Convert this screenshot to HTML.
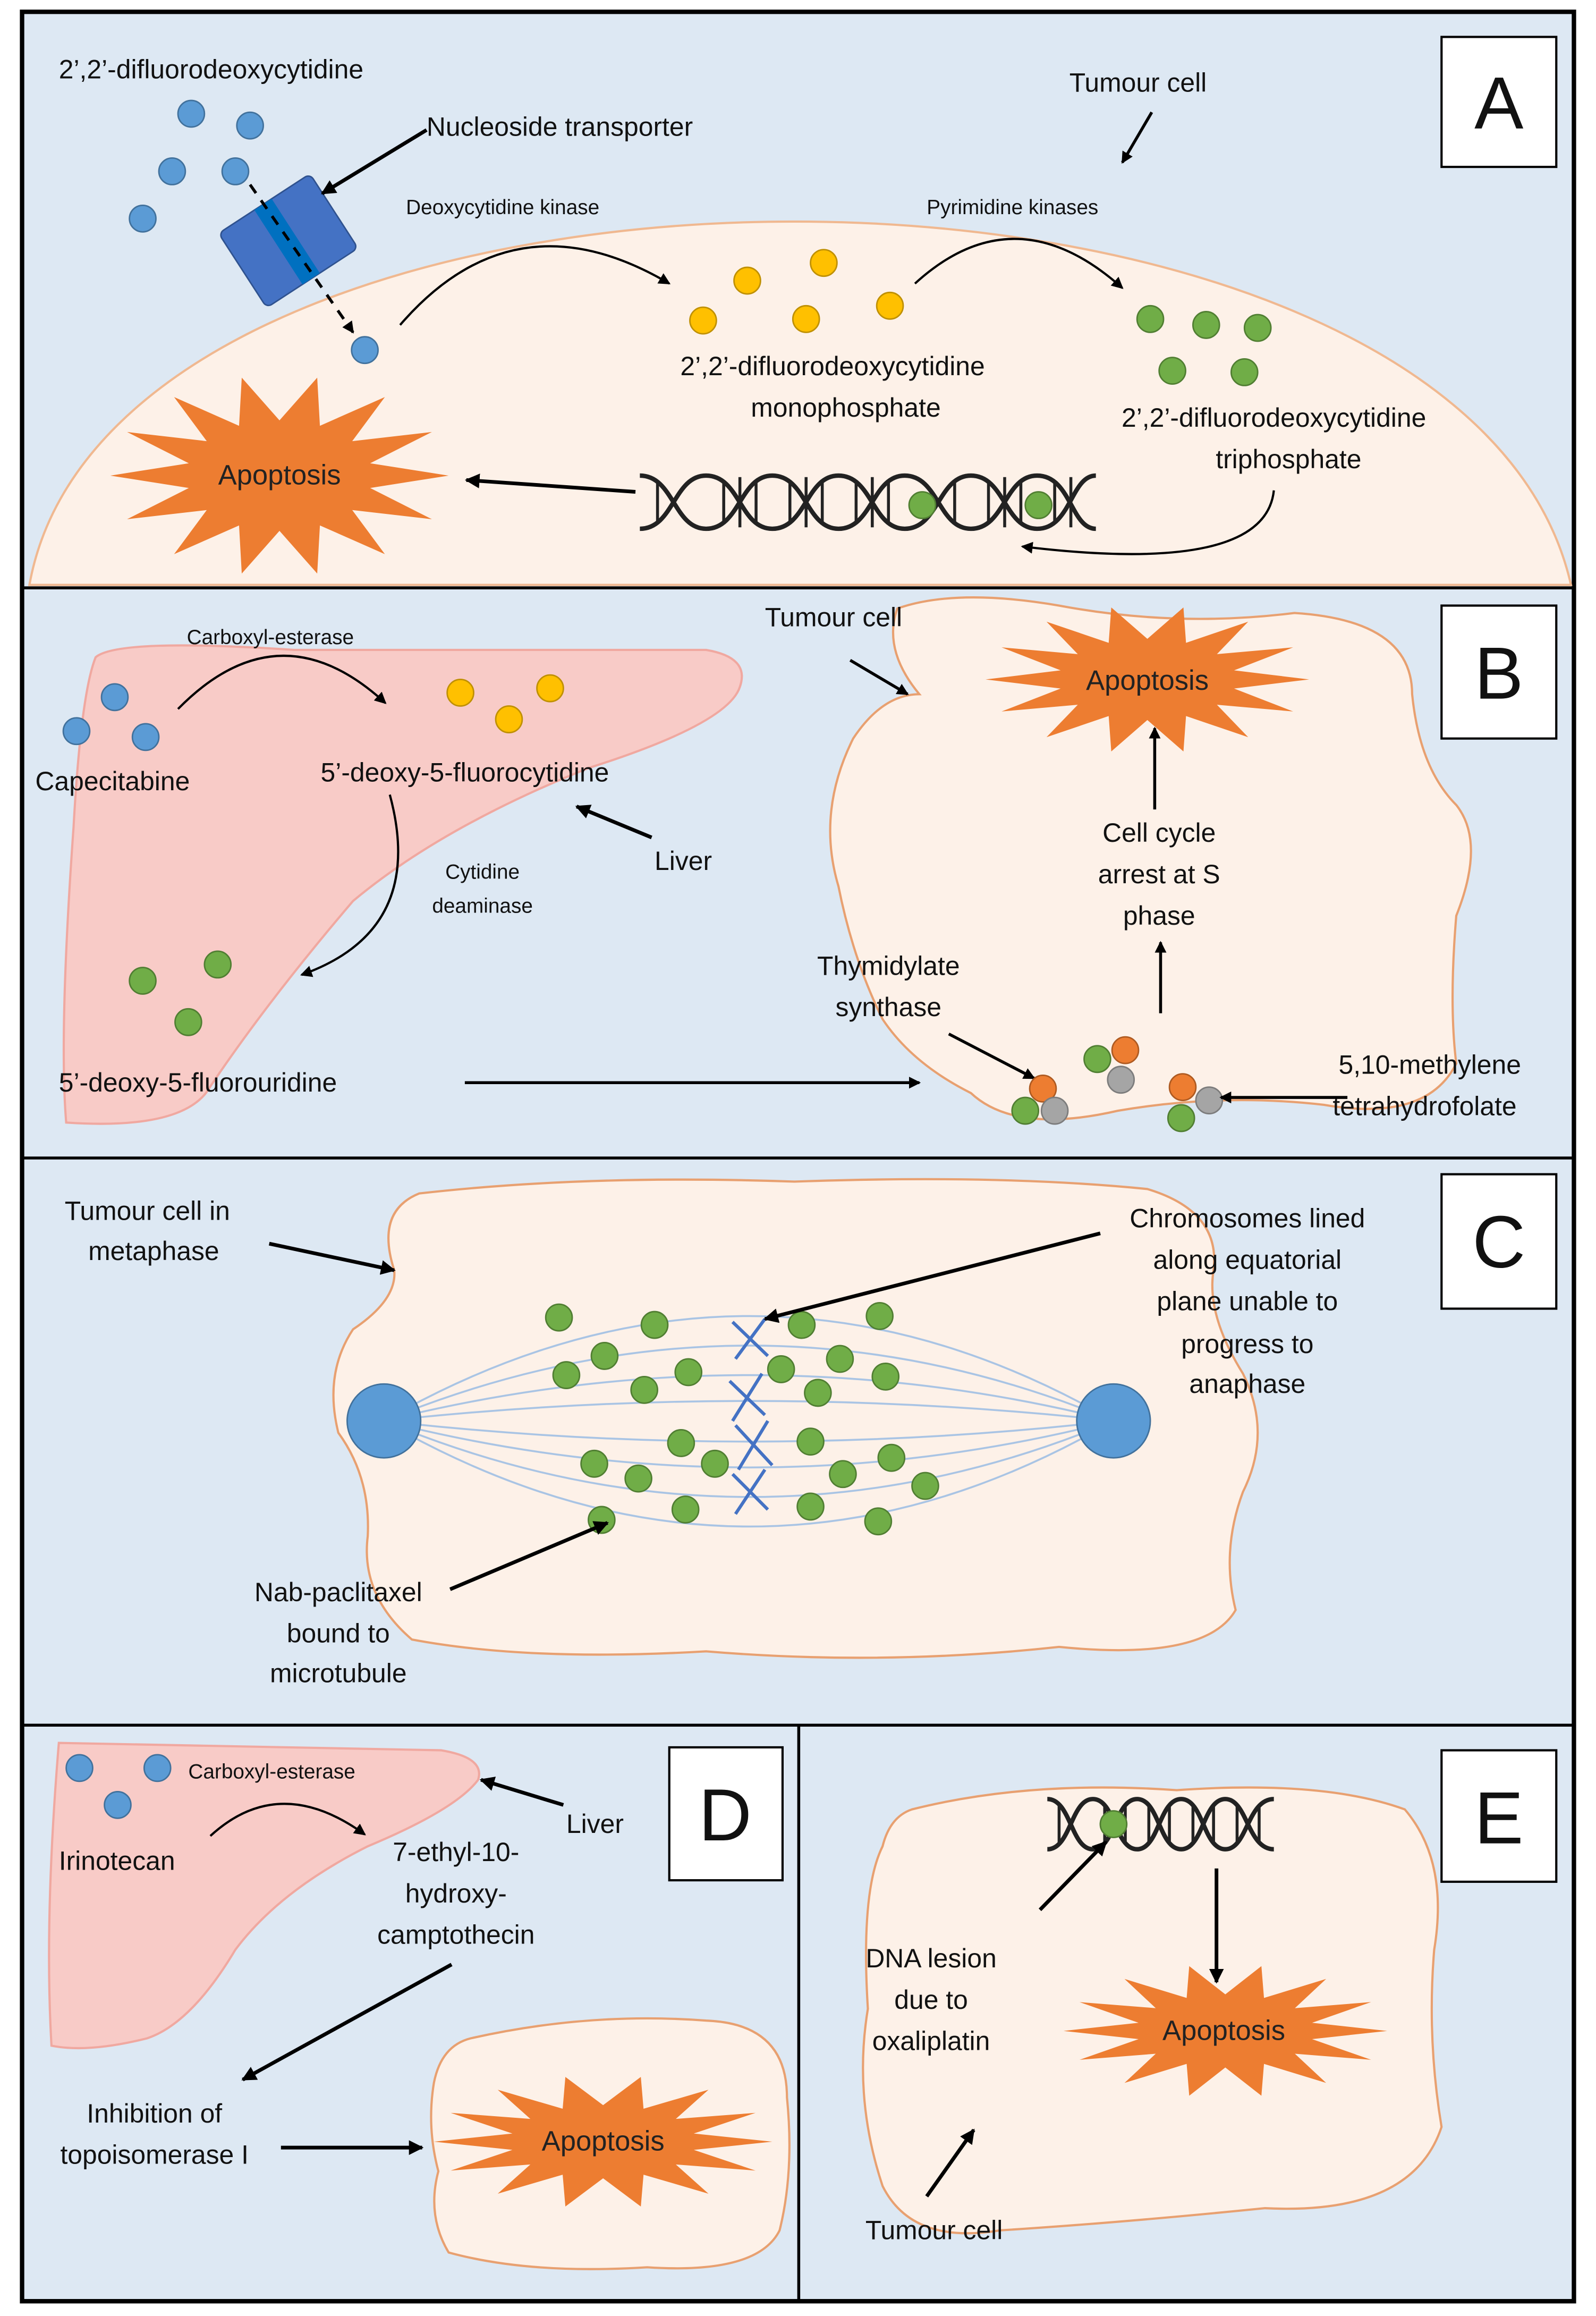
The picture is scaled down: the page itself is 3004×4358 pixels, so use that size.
<!DOCTYPE html>
<html><head><meta charset="utf-8"><style>
html,body{margin:0;padding:0;background:#fff}
svg{display:block}
text{font-family:"Liberation Sans",sans-serif;fill:#111}
.l{font-size:18px}.s{font-size:14px}.c{text-anchor:middle}
.big{font-size:50px;text-anchor:middle}
.ap{font-size:19px;text-anchor:middle;fill:#222}
</style></head><body>
<svg width="3004" height="4358" viewBox="0 0 1085 1568" preserveAspectRatio="none" xmlns="http://www.w3.org/2000/svg">
<defs>
<marker id="ar" markerWidth="8" markerHeight="8" refX="7" refY="4" orient="auto" markerUnits="userSpaceOnUse" viewBox="0 0 8 8"><path d="M0,0 L8,4 L0,8 z" fill="#000"/></marker>
<marker id="ar2" markerWidth="10" markerHeight="10" refX="9" refY="5" orient="auto" markerUnits="userSpaceOnUse" viewBox="0 0 10 10"><path d="M0,0 L10,5 L0,10 z" fill="#000"/></marker>
<polygon id="star" points="1,0 0.536,0.123 0.901,0.434 0.430,0.343 0.623,0.782 0.239,0.496 0.223,0.975 0,0.55 -0.223,0.975 -0.239,0.496 -0.623,0.782 -0.430,0.343 -0.901,0.434 -0.536,0.123 -1,0 -0.536,-0.123 -0.901,-0.434 -0.430,-0.343 -0.623,-0.782 -0.239,-0.496 -0.223,-0.975 0,-0.55 0.223,-0.975 0.239,-0.496 0.623,-0.782 0.430,-0.343 0.901,-0.434 0.536,-0.123"/>
</defs>
<rect x="15" y="8" width="1055" height="1550" fill="#dde8f3" stroke="#000" stroke-width="3"/>
<g stroke="#000" stroke-width="2">
<line x1="15" y1="398" x2="1070" y2="398"/><line x1="15" y1="784" x2="1070" y2="784"/><line x1="15" y1="1168" x2="1070" y2="1168"/><line x1="543" y1="1168" x2="543" y2="1558"/>
</g>
<!-- Panel A -->
<path d="M20,396 C50,230 300,150 540,150 C780,150 1030,230 1068,396 Z" fill="#fdf1e8" stroke="#f0b890" stroke-width="1.5"/>
<rect x="980" y="25" width="78" height="88" fill="#fff" stroke="#000" stroke-width="1.5"/><text x="1019" y="87" class="big">A</text>
<text x="40" y="53" class="l">2’,2’-difluorodeoxycytidine</text>
<g fill="#5b9bd5" stroke="#41719c" stroke-width="1"><circle cx="130" cy="77" r="9"/><circle cx="170" cy="85" r="9"/><circle cx="117" cy="116" r="9"/><circle cx="160" cy="116" r="9"/><circle cx="97" cy="148" r="9"/><circle cx="248" cy="237" r="9"/></g>
<g transform="translate(196,163) rotate(-33)"><rect x="-37" y="-30" width="74" height="60" rx="4" fill="#4472c4" stroke="#2f528f"/><rect x="-8" y="-30" width="14" height="60" fill="#0070c0"/></g>
<line x1="170" y1="125" x2="240" y2="225" stroke="#000" stroke-width="2" stroke-dasharray="7,6" marker-end="url(#ar)"/>
<text x="290" y="92" class="l">Nucleoside transporter</text>
<line x1="290" y1="88" x2="219" y2="131" stroke="#000" stroke-width="2.5" marker-end="url(#ar2)"/>
<text x="727" y="62" class="l">Tumour cell</text>
<line x1="783" y1="76" x2="763" y2="110" stroke="#000" stroke-width="2" marker-end="url(#ar)"/>
<text x="276" y="145" class="s">Deoxycytidine kinase</text>
<path d="M272,220 Q350,130 455,192" fill="none" stroke="#000" stroke-width="1.5" marker-end="url(#ar)"/>
<g fill="#ffc000" stroke="#bf9000" stroke-width="1"><circle cx="508" cy="190" r="9"/><circle cx="560" cy="178" r="9"/><circle cx="478" cy="217" r="9"/><circle cx="548" cy="216" r="9"/><circle cx="605" cy="207" r="9"/></g>
<text x="630" y="145" class="s">Pyrimidine kinases</text>
<path d="M622,192 Q690,130 763,195" fill="none" stroke="#000" stroke-width="1.5" marker-end="url(#ar)"/>
<g fill="#70ad47" stroke="#507e32" stroke-width="1"><circle cx="782" cy="216" r="9"/><circle cx="820" cy="220" r="9"/><circle cx="855" cy="222" r="9"/><circle cx="797" cy="251" r="9"/><circle cx="846" cy="252" r="9"/></g>
<text x="566" y="254" class="l c">2’,2’-difluorodeoxycytidine</text><text x="575" y="282" class="l c">monophosphate</text>
<text x="866" y="289" class="l c">2’,2’-difluorodeoxycytidine</text><text x="876" y="317" class="l c">triphosphate</text>
<path d="M866,332 Q860,390 695,370" fill="none" stroke="#000" stroke-width="1.5" marker-end="url(#ar)"/>
<g fill="none" stroke="#222" stroke-width="3">
<path d="M435,322 C458,322 458,358 480,358 C503,358 503,322 525,322 C548,322 548,358 570,358 C593,358 593,322 615,322 C638,322 638,358 660,358 C683,358 683,322 705,322 C728,322 728,358 745,358"/>
<path d="M435,358 C458,358 458,322 480,322 C503,322 503,358 525,358 C548,358 548,322 570,322 C593,322 593,358 615,358 C638,358 638,322 660,322 C683,322 683,358 705,358 C728,358 728,322 745,322"/>
</g>
<g stroke="#222" stroke-width="2"><line x1="447" y1="326" x2="447" y2="354"/><line x1="492" y1="326" x2="492" y2="354"/><line x1="503" y1="323" x2="503" y2="357"/><line x1="514" y1="326" x2="514" y2="354"/><line x1="537" y1="326" x2="537" y2="354"/><line x1="548" y1="323" x2="548" y2="357"/><line x1="559" y1="326" x2="559" y2="354"/><line x1="582" y1="326" x2="582" y2="354"/><line x1="593" y1="323" x2="593" y2="357"/><line x1="604" y1="326" x2="604" y2="354"/><line x1="649" y1="326" x2="649" y2="354"/><line x1="672" y1="326" x2="672" y2="354"/><line x1="683" y1="323" x2="683" y2="357"/><line x1="694" y1="326" x2="694" y2="354"/><line x1="717" y1="326" x2="717" y2="354"/><line x1="728" y1="323" x2="728" y2="357"/></g>
<g fill="#70ad47" stroke="#507e32"><circle cx="627" cy="342" r="9"/><circle cx="706" cy="342" r="9"/></g>
<line x1="432" y1="333" x2="317" y2="325" stroke="#000" stroke-width="2.5" marker-end="url(#ar2)"/>
<use href="#star" transform="translate(190,322) scale(115,68)" fill="#ed7d31"/>
<text x="190" y="328" class="ap">Apoptosis</text>
<!-- Panel B -->
<rect x="980" y="410" width="78" height="90" fill="#fff" stroke="#000" stroke-width="1.5"/><text x="1019" y="473" class="big">B</text>
<path d="M65,445 Q80,432 200,440 L480,440 Q510,445 503,465 Q495,490 400,520 Q300,560 240,610 Q180,680 140,740 Q120,765 45,760 Q40,700 50,560 Q55,470 65,445 Z" fill="#f8cbc7" stroke="#f0a8a0" stroke-width="1.5"/>
<text x="127" y="436" class="s">Carboxyl-esterase</text>
<path d="M121,480 Q190,410 262,476" fill="none" stroke="#000" stroke-width="1.5" marker-end="url(#ar)"/>
<g fill="#5b9bd5" stroke="#41719c"><circle cx="78" cy="472" r="9"/><circle cx="52" cy="495" r="9"/><circle cx="99" cy="499" r="9"/></g>
<g fill="#ffc000" stroke="#bf9000"><circle cx="313" cy="469" r="9"/><circle cx="346" cy="487" r="9"/><circle cx="374" cy="466" r="9"/></g>
<text x="24" y="535" class="l">Capecitabine</text><text x="218" y="529" class="l">5’-deoxy-5-fluorocytidine</text>
<text x="445" y="589" class="l">Liver</text>
<line x1="443" y1="567" x2="392" y2="546" stroke="#000" stroke-width="2.5" marker-end="url(#ar2)"/>
<text x="328" y="595" class="s c">Cytidine</text><text x="328" y="618" class="s c">deaminase</text>
<path d="M265,538 Q290,630 205,660" fill="none" stroke="#000" stroke-width="1.5" marker-end="url(#ar)"/>
<g fill="#70ad47" stroke="#507e32"><circle cx="97" cy="664" r="9"/><circle cx="148" cy="653" r="9"/><circle cx="128" cy="692" r="9"/></g>
<text x="40" y="739" class="l">5’-deoxy-5-fluorouridine</text>
<line x1="316" y1="733" x2="625" y2="733" stroke="#000" stroke-width="2" marker-end="url(#ar)"/>
<path d="M610,412 Q650,398 720,410 Q800,425 880,415 Q960,420 960,470 Q965,520 990,545 Q1010,570 990,620 Q985,680 990,720 Q970,760 900,748 Q830,740 760,752 Q690,768 660,740 Q620,720 600,690 Q580,650 570,600 Q555,550 580,500 Q600,470 625,470 Q600,440 610,412 Z" fill="#fdf1e8" stroke="#e8a070" stroke-width="1.5"/>
<text x="520" y="424" class="l">Tumour cell</text>
<line x1="578" y1="447" x2="617" y2="470" stroke="#000" stroke-width="2" marker-end="url(#ar)"/>
<use href="#star" transform="translate(780,460) scale(110,50)" fill="#ed7d31"/>
<text x="780" y="467" class="ap">Apoptosis</text>
<line x1="785" y1="548" x2="785" y2="493" stroke="#000" stroke-width="2" marker-end="url(#ar)"/>
<text x="788" y="570" class="l c">Cell cycle</text><text x="788" y="598" class="l c">arrest at S</text><text x="788" y="626" class="l c">phase</text>
<line x1="789" y1="686" x2="789" y2="638" stroke="#000" stroke-width="2" marker-end="url(#ar)"/>
<text x="604" y="660" class="l c">Thymidylate</text><text x="604" y="688" class="l c">synthase</text>
<line x1="645" y1="700" x2="703" y2="730" stroke="#000" stroke-width="2" marker-end="url(#ar)"/>
<g stroke-width="1"><circle cx="709" cy="737" r="9" fill="#ed7d31" stroke="#ae5a21"/><circle cx="697" cy="752" r="9" fill="#70ad47" stroke="#507e32"/><circle cx="717" cy="752" r="9" fill="#a5a5a5" stroke="#7c7c7c"/>
<circle cx="746" cy="717" r="9" fill="#70ad47" stroke="#507e32"/><circle cx="765" cy="711" r="9" fill="#ed7d31" stroke="#ae5a21"/><circle cx="762" cy="731" r="9" fill="#a5a5a5" stroke="#7c7c7c"/>
<circle cx="804" cy="736" r="9" fill="#ed7d31" stroke="#ae5a21"/><circle cx="822" cy="745" r="9" fill="#a5a5a5" stroke="#7c7c7c"/><circle cx="803" cy="757" r="9" fill="#70ad47" stroke="#507e32"/></g>
<text x="910" y="727" class="l">5,10-methylene</text><text x="906" y="755" class="l">tetrahydrofolate</text>
<line x1="916" y1="743" x2="830" y2="743" stroke="#000" stroke-width="2" marker-end="url(#ar)"/>
<!-- Panel C -->
<rect x="980" y="795" width="78" height="91" fill="#fff" stroke="#000" stroke-width="1.5"/><text x="1019" y="858" class="big">C</text>
<path d="M285,808 Q400,795 540,800 Q680,795 780,805 Q830,820 825,860 Q820,890 845,930 Q865,970 845,1010 Q830,1050 840,1090 Q820,1125 720,1115 Q600,1128 480,1118 Q360,1125 280,1110 Q245,1080 250,1040 Q252,1000 230,970 Q220,930 240,900 Q270,880 268,860 Q255,820 285,808 Z" fill="#fdf1e8" stroke="#e8a070" stroke-width="1.5"/>
<g fill="none" stroke="#a9c4e4" stroke-width="1.3">
<path d="M261,962 Q510,820 757,962"/><path d="M261,962 Q510,860 757,962"/><path d="M261,962 Q510,900 757,962"/><path d="M261,962 Q510,935 757,962"/><path d="M261,962 Q510,990 757,962"/><path d="M261,962 Q510,1025 757,962"/><path d="M261,962 Q510,1065 757,962"/><path d="M261,962 Q510,1105 757,962"/>
</g>
<g stroke="#4472c4" stroke-width="2.2">
<path d="M498,895 L522,918 M520,893 L500,920"/><path d="M496,935 L520,958 M518,930 L498,962"/><path d="M500,965 L525,992 M522,962 L502,995"/><path d="M498,998 L522,1022 M520,995 L500,1025"/>
</g>
<g fill="#70ad47" stroke="#507e32">
<circle cx="380" cy="892" r="9"/><circle cx="445" cy="897" r="9"/><circle cx="411" cy="918" r="9"/><circle cx="385" cy="931" r="9"/><circle cx="438" cy="941" r="9"/><circle cx="468" cy="929" r="9"/><circle cx="545" cy="897" r="9"/><circle cx="598" cy="891" r="9"/><circle cx="571" cy="920" r="9"/><circle cx="531" cy="927" r="9"/><circle cx="556" cy="943" r="9"/><circle cx="602" cy="932" r="9"/><circle cx="463" cy="977" r="9"/><circle cx="404" cy="991" r="9"/><circle cx="434" cy="1001" r="9"/><circle cx="486" cy="991" r="9"/><circle cx="551" cy="976" r="9"/><circle cx="606" cy="987" r="9"/><circle cx="573" cy="998" r="9"/><circle cx="629" cy="1006" r="9"/><circle cx="409" cy="1029" r="9"/><circle cx="466" cy="1022" r="9"/><circle cx="551" cy="1020" r="9"/><circle cx="597" cy="1030" r="9"/></g>
<g fill="#5b9bd5" stroke="#41719c"><circle cx="261" cy="962" r="25"/><circle cx="757" cy="962" r="25"/></g>
<text x="44" y="826" class="l">Tumour cell in</text><text x="60" y="853" class="l">metaphase</text>
<line x1="183" y1="842" x2="268" y2="860" stroke="#000" stroke-width="2.5" marker-end="url(#ar2)"/>
<text x="848" y="831" class="l c">Chromosomes lined</text><text x="848" y="859" class="l c">along equatorial</text><text x="848" y="887" class="l c">plane unable to</text><text x="848" y="916" class="l c">progress to</text><text x="848" y="943" class="l c">anaphase</text>
<line x1="748" y1="835" x2="520" y2="893" stroke="#000" stroke-width="2.5" marker-end="url(#ar2)"/>
<text x="230" y="1084" class="l c">Nab-paclitaxel</text><text x="230" y="1112" class="l c">bound to</text><text x="230" y="1139" class="l c">microtubule</text>
<line x1="306" y1="1076" x2="413" y2="1031" stroke="#000" stroke-width="2.5" marker-end="url(#ar2)"/>
<!-- Panel D -->
<rect x="455" y="1183" width="77" height="90" fill="#fff" stroke="#000" stroke-width="1.5"/><text x="493" y="1246" class="big">D</text>
<path d="M40,1180 L300,1185 Q330,1190 325,1205 Q310,1225 250,1250 Q190,1280 160,1320 Q130,1370 100,1380 Q60,1390 35,1385 Q30,1300 40,1180 Z" fill="#f8cbc7" stroke="#f0a8a0" stroke-width="1.5"/>
<g fill="#5b9bd5" stroke="#41719c"><circle cx="54" cy="1197" r="9"/><circle cx="107" cy="1197" r="9"/><circle cx="80" cy="1222" r="9"/></g>
<text x="128" y="1204" class="s">Carboxyl-esterase</text>
<path d="M143,1243 Q190,1200 248,1242" fill="none" stroke="#000" stroke-width="1.5" marker-end="url(#ar)"/>
<text x="40" y="1266" class="l">Irinotecan</text><text x="385" y="1241" class="l">Liver</text>
<line x1="383" y1="1222" x2="327" y2="1205" stroke="#000" stroke-width="2.5" marker-end="url(#ar2)"/>
<text x="310" y="1260" class="l c">7-ethyl-10-</text><text x="310" y="1288" class="l c">hydroxy-</text><text x="310" y="1316" class="l c">camptothecin</text>
<line x1="307" y1="1330" x2="165" y2="1408" stroke="#000" stroke-width="2.5" marker-end="url(#ar2)"/>
<text x="105" y="1437" class="l c">Inhibition of</text><text x="105" y="1465" class="l c">topoisomerase I</text>
<line x1="191" y1="1454" x2="287" y2="1454" stroke="#000" stroke-width="2.5" marker-end="url(#ar2)"/>
<path d="M320,1380 Q400,1362 480,1368 Q535,1370 535,1420 Q540,1470 530,1510 Q515,1540 440,1535 Q360,1540 305,1525 Q290,1500 298,1470 Q290,1440 295,1410 Q300,1385 320,1380 Z" fill="#fdf1e8" stroke="#e8a070" stroke-width="1.5"/>
<use href="#star" transform="translate(410,1450) scale(115,45)" fill="#ed7d31"/>
<text x="410" y="1456" class="ap">Apoptosis</text>
<!-- Panel E -->
<rect x="980" y="1185" width="78" height="89" fill="#fff" stroke="#000" stroke-width="1.5"/><text x="1019" y="1248" class="big">E</text>
<path d="M620,1225 Q700,1205 800,1212 Q900,1205 955,1225 Q985,1260 975,1320 Q970,1380 980,1440 Q960,1500 860,1495 Q760,1505 680,1510 Q620,1520 600,1480 Q580,1420 590,1360 Q585,1280 600,1250 Q605,1230 620,1225 Z" fill="#fdf1e8" stroke="#e8a070" stroke-width="1.5"/>
<g fill="none" stroke="#222" stroke-width="3">
<path d="M712,1218 C728,1218 728,1252 743,1252 C758,1252 758,1218 773,1218 C788,1218 788,1252 803,1252 C818,1252 818,1218 833,1218 C848,1218 848,1252 866,1252"/>
<path d="M712,1252 C728,1252 728,1218 743,1218 C758,1218 758,1252 773,1252 C788,1252 788,1218 803,1218 C818,1218 818,1252 833,1252 C848,1252 848,1218 866,1218"/>
</g>
<g stroke="#222" stroke-width="2"><line x1="720" y1="1222" x2="720" y2="1248"/><line x1="751" y1="1222" x2="751" y2="1248"/><line x1="765" y1="1222" x2="765" y2="1248"/><line x1="781" y1="1222" x2="781" y2="1248"/><line x1="795" y1="1222" x2="795" y2="1248"/><line x1="811" y1="1222" x2="811" y2="1248"/><line x1="825" y1="1222" x2="825" y2="1248"/><line x1="841" y1="1222" x2="841" y2="1248"/><line x1="856" y1="1222" x2="856" y2="1248"/></g>
<circle cx="757" cy="1235" r="9" fill="#70ad47" stroke="#507e32"/>
<line x1="707" y1="1293" x2="752" y2="1247" stroke="#000" stroke-width="2.5" marker-end="url(#ar2)"/>
<line x1="827" y1="1265" x2="827" y2="1342" stroke="#000" stroke-width="2.5" marker-end="url(#ar2)"/>
<text x="633" y="1332" class="l c">DNA lesion</text><text x="633" y="1360" class="l c">due to</text><text x="633" y="1388" class="l c">oxaliplatin</text>
<use href="#star" transform="translate(833,1375) scale(110,45)" fill="#ed7d31"/>
<text x="832" y="1381" class="ap">Apoptosis</text>
<line x1="630" y1="1487" x2="662" y2="1442" stroke="#000" stroke-width="2.5" marker-end="url(#ar2)"/>
<text x="635" y="1516" class="l c">Tumour cell</text>
</svg>
</body></html>
